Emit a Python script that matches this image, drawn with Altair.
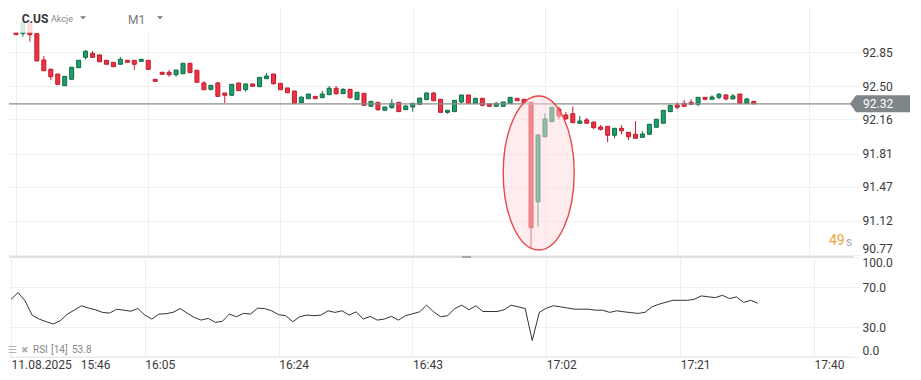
import altair as alt
import pandas as pd

FONT = "Roboto"

# ---------------- data ----------------
minutes = list(range(107))  # minutes after 15:46
opens = [93.05, 93.04, 93.15, 93.04, 92.77, 92.674, 92.626, 92.506, 92.572, 92.691,
         92.797, 92.838, 92.821, 92.767, 92.746, 92.726, 92.767, 92.767, 92.756, 92.767,
         92.572, 92.644, 92.644, 92.619, 92.629, 92.736, 92.664, 92.534, 92.469, 92.534,
         92.431, 92.408, 92.534, 92.465, 92.524, 92.496, 92.578, 92.626, 92.531, 92.483,
         92.452, 92.332, 92.373, 92.397, 92.383, 92.414, 92.480, 92.424, 92.469, 92.363,
         92.428, 92.295, 92.336, 92.254, 92.281, 92.336, 92.260, 92.288, 92.315, 92.363,
         92.431, 92.367, 92.233, 92.240, 92.339, 92.411, 92.326, 92.377, 92.319, 92.295,
         92.295, 92.326, 92.377, 92.367, 92.332, 91.316, 91.983, 92.137, 92.267, 92.206,
         92.219, 92.121, 92.155, 92.134, 92.083, 92.090, 91.998, 92.069, 92.028, 92.008,
         91.977, 92.008, 92.080, 92.121, 92.240, 92.308, 92.326, 92.336, 92.315, 92.387,
         92.367, 92.387, 92.411, 92.370, 92.421, 92.326, 92.346]
highs = [93.05, 93.16, 93.15, 93.04, 92.811, 92.685, 92.626, 92.602, 92.695, 92.767,
         92.872, 92.862, 92.831, 92.767, 92.746, 92.800, 92.767, 92.767, 92.777, 92.767,
         92.572, 92.644, 92.667, 92.667, 92.736, 92.736, 92.664, 92.554, 92.510, 92.544,
         92.431, 92.520, 92.534, 92.524, 92.524, 92.592, 92.636, 92.626, 92.531, 92.483,
         92.452, 92.390, 92.421, 92.397, 92.452, 92.503, 92.503, 92.480, 92.469, 92.439,
         92.428, 92.346, 92.336, 92.288, 92.370, 92.336, 92.308, 92.326, 92.380, 92.438,
         92.442, 92.367, 92.254, 92.356, 92.411, 92.411, 92.377, 92.377, 92.319, 92.339,
         92.339, 92.387, 92.377, 92.367, 92.342, 92.011, 92.223, 92.285, 92.291, 92.237,
         92.291, 92.196, 92.175, 92.134, 92.103, 92.090, 92.069, 92.103, 92.028, 92.144,
         92.039, 92.111, 92.162, 92.254, 92.305, 92.336, 92.360, 92.367, 92.387, 92.387,
         92.408, 92.431, 92.421, 92.421, 92.421, 92.380, 92.346]
lows = [93.03, 93.009, 92.957, 92.76, 92.66, 92.565, 92.520, 92.506, 92.572, 92.691,
        92.777, 92.797, 92.752, 92.726, 92.701, 92.726, 92.746, 92.670, 92.756, 92.674,
        92.551, 92.623, 92.598, 92.598, 92.629, 92.640, 92.541, 92.465, 92.459, 92.397,
        92.329, 92.408, 92.455, 92.445, 92.500, 92.496, 92.578, 92.516, 92.465, 92.434,
        92.326, 92.332, 92.373, 92.373, 92.383, 92.414, 92.414, 92.424, 92.373, 92.363,
        92.305, 92.295, 92.250, 92.254, 92.270, 92.240, 92.260, 92.240, 92.315, 92.363,
        92.352, 92.233, 92.219, 92.240, 92.329, 92.326, 92.326, 92.295, 92.295, 92.295,
        92.295, 92.326, 92.352, 92.332, 90.838, 91.060, 91.983, 92.137, 92.161, 92.154,
        92.127, 92.121, 92.121, 92.059, 92.045, 91.926, 91.967, 92.008, 91.949, 91.967,
        91.977, 92.008, 92.080, 92.121, 92.240, 92.264, 92.295, 92.315, 92.295, 92.356,
        92.367, 92.367, 92.356, 92.370, 92.326, 92.326, 92.320]
closes = [93.03, 93.16, 93.03, 92.76, 92.66, 92.598, 92.520, 92.602, 92.695, 92.767,
          92.859, 92.797, 92.752, 92.726, 92.701, 92.777, 92.746, 92.726, 92.777, 92.674,
          92.551, 92.623, 92.619, 92.667, 92.736, 92.640, 92.541, 92.465, 92.510, 92.397,
          92.408, 92.520, 92.455, 92.524, 92.500, 92.592, 92.606, 92.527, 92.465, 92.434,
          92.326, 92.390, 92.421, 92.373, 92.421, 92.480, 92.424, 92.469, 92.383, 92.439,
          92.305, 92.346, 92.260, 92.288, 92.326, 92.240, 92.298, 92.326, 92.380, 92.431,
          92.352, 92.233, 92.254, 92.356, 92.411, 92.326, 92.377, 92.305, 92.295, 92.326,
          92.339, 92.387, 92.352, 92.332, 91.050, 92.000, 92.165, 92.285, 92.195, 92.168,
          92.127, 92.144, 92.121, 92.076, 92.059, 91.998, 92.069, 92.045, 91.983, 91.967,
          92.011, 92.111, 92.162, 92.254, 92.305, 92.285, 92.295, 92.315, 92.387, 92.367,
          92.390, 92.418, 92.370, 92.401, 92.326, 92.370, 92.320]
rsi_values = [57.7, 64.4, 56.1, 41.9, 37.9, 35.3, 33.0, 36.3, 42.9, 47.0,
              51.2, 49.0, 47.2, 44.6, 43.9, 47.8, 46.8, 45.8, 48.5, 41.9,
              37.9, 42.9, 43.3, 44.6, 48.5, 43.9, 39.6, 36.9, 38.6, 34.7,
              35.6, 42.9, 40.3, 43.6, 42.9, 48.8, 48.5, 46.2, 42.3, 41.3,
              35.3, 40.3, 41.9, 41.3, 41.9, 46.2, 44.6, 46.2, 41.9, 45.2,
              37.9, 40.6, 36.9, 37.9, 40.6, 36.9, 41.3, 43.2, 45.2, 51.8,
              45.2, 40.3, 41.3, 48.5, 51.8, 47.2, 51.2, 45.5, 45.5, 45.5,
              47.2, 51.8, 50.2, 48.5, 16.5, 44.6, 48.8, 51.2, 50.2, 49.0,
              47.8, 47.8, 47.8, 46.8, 46.8, 44.6, 46.2, 45.2, 44.4, 43.6,
              44.6, 50.2, 52.8, 54.8, 56.7, 56.7, 56.7, 57.7, 61.1, 60.2,
              59.4, 61.7, 58.4, 60.1, 54.5, 56.7, 53.8]

time_ticks = [0, 19, 38, 57, 76, 95, 114]
time_labels = ["11.08.2025\u00a0\u00a0\u00a015:46", "16:05", "16:24", "16:43", "17:02", "17:21", "17:40"]
price_ticks = [90.77, 91.12, 91.47, 91.81, 92.16, 92.50, 92.85]
rsi_ticks = [0, 30, 70, 100]
last_price = 92.32
last_rsi = "53.8"
highlight_minute = [75.1]
highlight_price = [91.611]

# ---------------- styling ----------------
RED_FILL, RED_LINE = "#ec3343", "#c01c2e"
GREEN_FILL, GREEN_LINE = "#1f9e6b", "#0e6b45"
GRID = "#efefef"
W = 845
H_PRICE = 247
H_RSI = 100

x_scale = alt.Scale(domain=[-0.284, 119.68], nice=False, zero=False)
y_scale = alt.Scale(domain=[90.77, 93.303], nice=False, zero=False)
r_scale = alt.Scale(domain=[0, 100], nice=False, zero=False)

label_expr = "".join(f"datum.value == {v} ? '{l}' : " for v, l in zip(time_ticks, time_labels)) + "''"

df = pd.DataFrame({"m": minutes, "open": opens, "high": highs, "low": lows, "close": closes})
df["dir"] = ["up" if c >= o else "down" for o, c in zip(opens, closes)]
rsi_df = pd.DataFrame({"m": minutes, "rsi": rsi_values})

dir_fill = alt.Scale(domain=["up", "down"], range=[GREEN_FILL, RED_FILL])
dir_line = alt.Scale(domain=["up", "down"], range=[GREEN_LINE, RED_LINE])

x_grid_axis = alt.Axis(values=time_ticks, labels=False, ticks=False, domain=False,
                       grid=True, gridColor=GRID, title=None)
x_label_axis = alt.Axis(values=time_ticks, labelExpr=label_expr, labelAlign="left",
                        labelPadding=2, ticks=False, domain=False, grid=True,
                        gridColor=GRID, labelFlush=False, labelOverlap=False, title=None)
y_price_axis = alt.Axis(orient="right", values=price_ticks, format=".2f", grid=True,
                        gridColor=GRID, tickColor=GRID, tickSize=5, labelPadding=3,
                        domain=False, labelFlush=True, labelOverlap=False, title=None)
y_rsi_axis = alt.Axis(orient="right", values=rsi_ticks, format=".1f", grid=True,
                      gridColor=GRID, tickColor=GRID, tickSize=5, labelPadding=3,
                      domain=False, labelFlush=True, labelOverlap=False, title=None)


def txt(text, x, y, size, color, weight="normal", align="left", baseline="alphabetic"):
    return alt.Chart(pd.DataFrame({"t": [text]})).mark_text(
        align=align, baseline=baseline, fontSize=size, color=color,
        fontWeight=weight, font=FONT
    ).encode(x=alt.value(x), y=alt.value(y), text="t:N")


base = alt.Chart(df)

wicks = base.mark_rule(strokeWidth=1).encode(
    x=alt.X("m:Q", scale=x_scale, axis=x_grid_axis),
    y=alt.Y("low:Q", scale=y_scale, axis=y_price_axis),
    y2="high:Q",
    color=alt.Color("dir:N", scale=dir_line, legend=None),
)
bodies = base.mark_bar(width=4, strokeWidth=1).encode(
    x=alt.X("m:Q", scale=x_scale, axis=x_grid_axis),
    y=alt.Y("open:Q", scale=y_scale, axis=y_price_axis),
    y2="close:Q",
    fill=alt.Fill("dir:N", scale=dir_fill, legend=None),
    stroke=alt.Stroke("dir:N", scale=dir_line, legend=None),
)

price_df = pd.DataFrame({"p": [last_price], "t": [f"{last_price:.2f}"]})
price_line = alt.Chart(price_df).mark_rule(color="#8c8c8c", strokeWidth=1.2).encode(
    y=alt.Y("p:Q", scale=y_scale, axis=y_price_axis)
)

ellipse_path = ("M0.461,0C0.461,0.5523 0.2546,1 0,1C-0.2546,1 -0.461,0.5523 -0.461,0"
                "C-0.461,-0.5523 -0.2546,-1 0,-1C0.2546,-1 0.461,-0.5523 0.461,0Z")
ellipse = alt.Chart(pd.DataFrame({"m": highlight_minute, "p": highlight_price})).mark_point(
    shape=ellipse_path, size=23716, filled=True, fill="#ffdadd", fillOpacity=0.5,
    stroke="#e84848", strokeWidth=1.4, opacity=1
).encode(x=alt.X("m:Q", scale=x_scale, axis=x_grid_axis),
         y=alt.Y("p:Q", scale=y_scale, axis=y_price_axis))

header_veil = alt.Chart(pd.DataFrame({"a": [0]})).mark_rect(color="white", opacity=0.82).encode(
    x=alt.value(0), x2=alt.value(162), y=alt.value(0), y2=alt.value(24.7)
)

tri_path = "M-1,-0.45L1,-0.45L0,0.55Z"
tri1 = alt.Chart(pd.DataFrame({"a": [0]})).mark_point(
    shape=tri_path, size=36, filled=True, fill="#777777", opacity=1, strokeWidth=0
).encode(x=alt.value(74), y=alt.value(9.5))
tri2 = alt.Chart(pd.DataFrame({"a": [0]})).mark_point(
    shape=tri_path, size=36, filled=True, fill="#777777", opacity=1, strokeWidth=0
).encode(x=alt.value(151), y=alt.value(9.5))

tag_path = "M-1,0L-0.8,-0.283L1,-0.283L1,0.283L-0.8,0.283Z"
tag = alt.Chart(price_df).mark_point(
    shape=tag_path, size=3600, filled=True, fill="#7e868a", opacity=1, strokeWidth=0
).encode(x=alt.value(871), y=alt.Y("p:Q", scale=y_scale, axis=y_price_axis))
tag_text = alt.Chart(price_df).mark_text(
    align="left", baseline="middle", fontSize=12, color="white", font=FONT
).encode(x=alt.value(854), y=alt.Y("p:Q", scale=y_scale, axis=y_price_axis), text="t:N")

price_chart = alt.layer(
    wicks, bodies, price_line, ellipse, header_veil,
    txt("C.US", 12.7, 14.7, 12, "#333333", weight="bold"),
    txt("Akcje", 42, 14, 9, "#8a8a8a"),
    tri1,
    txt("M1", 119, 16, 12, "#777777"),
    tri2,
    tag, tag_text,
    txt("49", 820, 233, 14, "#f2a23c", baseline="middle"),
    txt("s", 837, 234, 12, "#aaaaaa", baseline="middle"),
).properties(width=W, height=H_PRICE)

# ---------------- RSI panel ----------------
rsi_line = alt.Chart(rsi_df).mark_line(color="#333333", strokeWidth=1).encode(
    x=alt.X("m:Q", scale=x_scale, axis=x_label_axis),
    y=alt.Y("rsi:Q", scale=r_scale, axis=y_rsi_axis),
)
bounds_df = pd.DataFrame({"r": [100, 0]})
top_rule = alt.Chart(bounds_df.iloc[[0]]).mark_rule(color="#e0e0e0", strokeWidth=2).encode(
    y=alt.Y("r:Q", scale=r_scale, axis=y_rsi_axis)
)
bottom_rule = alt.Chart(bounds_df.iloc[[1]]).mark_rule(color="#e6e6e6", strokeWidth=1).encode(
    y=alt.Y("r:Q", scale=r_scale, axis=y_rsi_axis)
)
handle = alt.Chart(pd.DataFrame({"a": [0]})).mark_rule(color="#a8a8a8", strokeWidth=2).encode(
    x=alt.value(453), x2=alt.value(462), y=alt.value(0)
)

rsi_chart = alt.layer(
    rsi_line, top_rule, bottom_rule, handle,
    txt("\u2630", -1, 93, 10, "#b0b0b0", baseline="middle"),
    txt("\u2716", 12, 93, 9, "#b0b0b0", baseline="middle"),
    txt("RSI", 24, 93, 10, "#888888", baseline="middle"),
    txt("[14]", 42, 93, 10, "#888888", baseline="middle"),
    txt(last_rsi, 63, 93, 10, "#888888", baseline="middle"),
).properties(width=W, height=H_RSI)

chart = alt.vconcat(price_chart, rsi_chart, spacing=0).properties(
    padding={"left": 0, "top": 0, "right": 0, "bottom": 0}
).configure_view(strokeWidth=0).configure_axis(
    labelFont=FONT, labelFontSize=12, labelColor="#3a3a3a"
).configure_concat(spacing=0)

chart.save("out.html", embed_options={"renderer": "svg", "actions": False})
